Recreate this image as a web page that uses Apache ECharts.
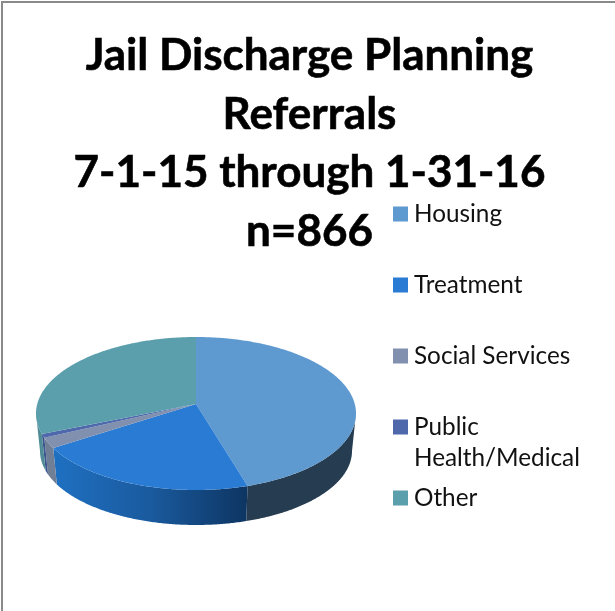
<!DOCTYPE html>
<html>
<head>
<meta charset="utf-8">
<style>html,body{margin:0;padding:0;background:#fff}#c{width:615px;height:611px}</style>
<script src="https://cdn.jsdelivr.net/npm/echarts@6/dist/echarts.min.js"></script>
</head>
<body>
<div id="c"></div>
<script>
var titleLines = ['Jail Discharge Planning', 'Referrals', '7-1-15 through 1-31-16', 'n=866'];
var categories = ['Housing', 'Treatment', 'Social Services', 'Public Health/Medical', 'Other'];
var referrals = [393, 177, 19, 7, 270];
var topColors = ['#5e99d0', '#2a7bd3', '#8090ae', '#4e68ab', '#5a9fab'];
var wallColors = ['#263c50', null, '#707f95', '#3c5590', '#4f8c96'];
var legendTops = [202, 273, 344, 415, 486];

var FONT = 'Lato, "Open Sans", sans-serif';
var total = referrals.reduce(function (a, b) { return a + b; }, 0);
var CX = 196, TOP_CY = 413.5, RX = 160, RY = 76.5, APEX_Y = 404;
var BOT_CY = 451, BOT_RX = 156, BOT_RY = 74;
var K = (TOP_CY - APEX_Y) / RY;

// true pie angle (clockwise from 12 o'clock) -> parameter on the perspective ellipse
function toParam(theta) {
  var c = Math.cos(theta);
  var p = Math.acos((c + K) / (1 + K * c));
  return Math.sin(theta) >= 0 ? p : 2 * Math.PI - p;
}
function onTop(p) { return [CX + RX * Math.sin(p), TOP_CY - RY * Math.cos(p)]; }
function onBot(p) { return [CX + BOT_RX * Math.sin(p), BOT_CY - BOT_RY * Math.cos(p)]; }
function arc(fn, a, b) {
  var pts = [], n = Math.max(2, Math.ceil(Math.abs(b - a) / 0.01));
  for (var i = 0; i <= n; i++) pts.push(fn(a + (b - a) * i / n));
  return pts;
}

function renderSlice(params, api) {
  var i = params.seriesIndex;
  var before = 0;
  for (var j = 0; j < i; j++) before += referrals[j];
  var t0 = before / total * 2 * Math.PI;
  var t1 = (before + api.value(0)) / total * 2 * Math.PI;
  var p0 = toParam(t0);
  var p1 = i === referrals.length - 1 ? 2 * Math.PI : toParam(t1);
  var children = [];
  var w0 = Math.max(p0, Math.PI / 2), w1 = Math.min(p1, 3 * Math.PI / 2);
  if (w1 > w0) {
    var fill = wallColors[i];
    if (!fill) {
      fill = new echarts.graphic.LinearGradient(onTop(p1)[0], 0, onTop(p0)[0], 0, [
        { offset: 0, color: '#1f70c2' },
        { offset: 0.5, color: '#1a5a9e' },
        { offset: 1, color: '#0d3562' }
      ], true);
    }
    children.push({
      type: 'polygon',
      shape: { points: arc(onTop, w0, w1).concat(arc(onBot, w0, w1).reverse()) },
      style: { fill: fill, stroke: null }
    });
  }
  children.push({
    type: 'polygon',
    shape: { points: [[CX, APEX_Y]].concat(arc(onTop, p0, p1)) },
    style: { fill: topColors[i], stroke: null }
  });
  return { type: 'group', children: children };
}

var chart = echarts.init(document.getElementById('c'), null, { renderer: 'canvas' });
chart.setOption({
  animation: false,
  backgroundColor: '#fff',
  title: {
    text: titleLines.join('\n'),
    left: 309.5,
    top: 27,
    textAlign: 'center',
    padding: 0,
    textStyle: { fontFamily: FONT, fontWeight: 'bold', fontSize: 44, lineHeight: 58.5, color: '#000',
      textBorderColor: '#000', textBorderWidth: 0.6 }
  },
  legend: categories.map(function (name, i) {
    return {
      data: [name],
      left: 393,
      top: legendTops[i],
      padding: 0,
      itemWidth: 15,
      itemHeight: 15,
      icon: 'rect',
      selectedMode: false,
      formatter: function (n) { return n === 'Public Health/Medical' ? 'Public' : n; },
      textStyle: { fontFamily: FONT, fontSize: 24.3, color: '#111', lineHeight: 15, padding: [0, 0, 0, 1] }
    };
  }),
  graphic: [
    { type: 'rect', silent: true, shape: { x: 2, y: 2, width: 800, height: 800 },
      style: { fill: null, stroke: '#8a8a8a', lineWidth: 2 } },
    { type: 'text', silent: true, x: 414, y: 458,
      style: { text: 'Health/Medical', fontFamily: FONT, fontSize: 24.3, fill: '#111', verticalAlign: 'middle' } }
  ],
  series: categories.map(function (name, i) {
    return {
      type: 'custom',
      name: name,
      coordinateSystem: 'none',
      itemStyle: { color: topColors[i] },
      renderItem: renderSlice,
      data: [[referrals[i]]]
    };
  })
});
</script>
</body>
</html>
